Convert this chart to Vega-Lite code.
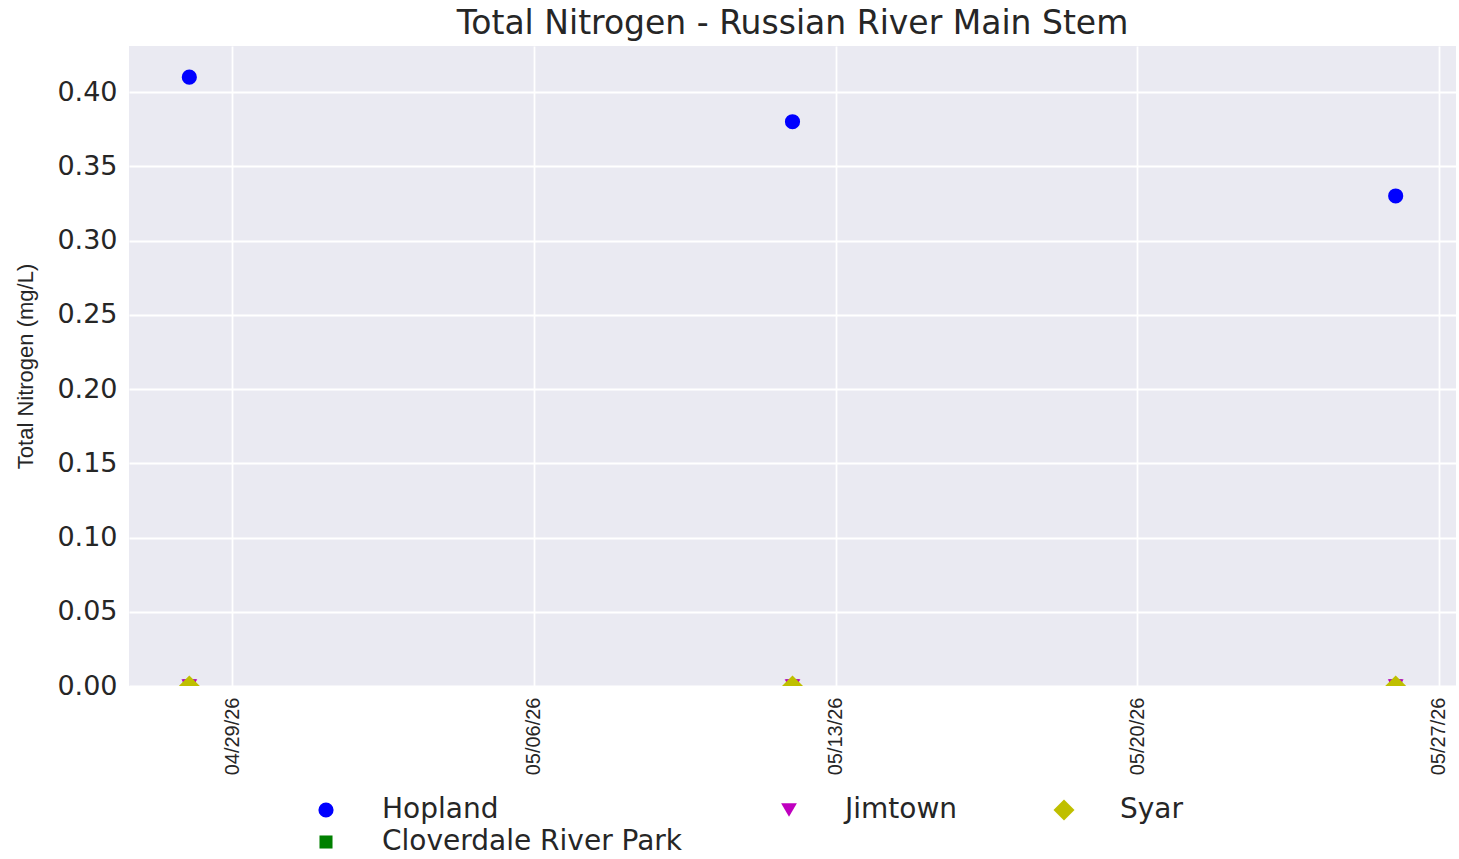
{
  "$schema": "https://vega.github.io/schema/vega-lite/v6.json",
  "width": 1327,
  "height": 640,
  "autosize": {"type": "none"},
  "padding": {"left": 129, "top": 46, "right": 3, "bottom": 173},
  "background": "white",
  "title": {
    "text": "Total Nitrogen - Russian River Main Stem",
    "font": "DejaVu Sans",
    "fontSize": 33,
    "fontWeight": "normal",
    "color": "#262626",
    "anchor": "middle",
    "baseline": "alphabetic",
    "offset": 13,
    "dy": 34
  },
  "config": {
    "view": {"fill": "#EAEAF2", "stroke": null},
    "axis": {
      "gridColor": "white",
      "gridWidth": 1.8,
      "gridOpacity": 1,
      "domain": false,
      "ticks": false,
      "labelColor": "#262626",
      "titleColor": "#262626"
    }
  },
  "data": {
    "values": [
      {"date": "2026-04-28T00:00:00", "site": "Hopland", "tn": 0.41},
      {"date": "2026-05-12T00:00:00", "site": "Hopland", "tn": 0.38},
      {"date": "2026-05-26T00:00:00", "site": "Hopland", "tn": 0.33},
      {"date": "2026-04-28T00:00:00", "site": "Cloverdale River Park", "tn": 0.0},
      {"date": "2026-05-12T00:00:00", "site": "Cloverdale River Park", "tn": 0.0},
      {"date": "2026-05-26T00:00:00", "site": "Cloverdale River Park", "tn": 0.0},
      {"date": "2026-04-28T00:00:00", "site": "Jimtown", "tn": 0.0},
      {"date": "2026-05-12T00:00:00", "site": "Jimtown", "tn": 0.0},
      {"date": "2026-05-26T00:00:00", "site": "Jimtown", "tn": 0.0},
      {"date": "2026-04-28T00:00:00", "site": "Syar", "tn": 0.0},
      {"date": "2026-05-12T00:00:00", "site": "Syar", "tn": 0.0},
      {"date": "2026-05-26T00:00:00", "site": "Syar", "tn": 0.0}
    ]
  },
  "mark": {"type": "point", "filled": true, "opacity": 1, "clip": true},
  "encoding": {
    "x": {
      "field": "date",
      "type": "temporal",
      "scale": {
        "domain": [
          {"year": 2026, "month": "Apr", "date": 26, "hours": 14, "minutes": 24},
          {"year": 2026, "month": "May", "date": 27, "hours": 9, "minutes": 36}
        ]
      },
      "axis": {
        "title": null,
        "values": [
          {"year": 2026, "month": "Apr", "date": 29},
          {"year": 2026, "month": "May", "date": 6},
          {"year": 2026, "month": "May", "date": 13},
          {"year": 2026, "month": "May", "date": 20},
          {"year": 2026, "month": "May", "date": 27}
        ],
        "format": "%m/%d/%y",
        "labelAngle": -90,
        "labelAlign": "right",
        "labelBaseline": "middle",
        "labelPadding": 11,
        "labelFont": "Liberation Sans",
        "labelFontSize": 20,
        "labelOverlap": false,
        "labelFlush": false
      }
    },
    "y": {
      "field": "tn",
      "type": "quantitative",
      "scale": {"domain": [0, 0.431], "nice": false, "zero": false},
      "axis": {
        "title": "Total Nitrogen (mg/L)",
        "titleFont": "Liberation Sans",
        "titleFontSize": 22,
        "titleFontWeight": "normal",
        "titleAngle": -90,
        "titleX": -104,
        "titleY": 320,
        "titleAlign": "center",
        "titleBaseline": "middle",
        "values": [0, 0.05, 0.1, 0.15, 0.2, 0.25, 0.3, 0.35, 0.4],
        "format": ".2f",
        "labelFont": "DejaVu Sans",
        "labelFontSize": 27,
        "labelPadding": 12
      }
    },
    "color": {
      "field": "site",
      "type": "nominal",
      "scale": {
        "domain": ["Hopland", "Jimtown", "Syar", "Cloverdale River Park"],
        "range": ["#0000FF", "#BF00BF", "#BFBF00", "#008000"]
      },
      "legend": {
        "title": null,
        "orient": "none",
        "legendX": 183,
        "legendY": 750,
        "direction": "horizontal",
        "columns": 3,
        "columnPadding": 92,
        "rowPadding": 4,
        "padding": 0,
        "symbolOpacity": 1,
        "labelOffset": 42,
        "labelFont": "DejaVu Sans",
        "labelFontSize": 28,
        "labelColor": "#262626",
        "labelLimit": 600
      }
    },
    "shape": {
      "field": "site",
      "type": "nominal",
      "scale": {
        "domain": ["Hopland", "Jimtown", "Syar", "Cloverdale River Park"],
        "range": ["circle", "triangle-down", "diamond", "square"]
      }
    },
    "size": {
      "field": "site",
      "type": "nominal",
      "scale": {
        "type": "ordinal",
        "domain": ["Hopland", "Jimtown", "Syar", "Cloverdale River Park"],
        "range": [230, 250, 440, 170]
      }
    }
  }
}
